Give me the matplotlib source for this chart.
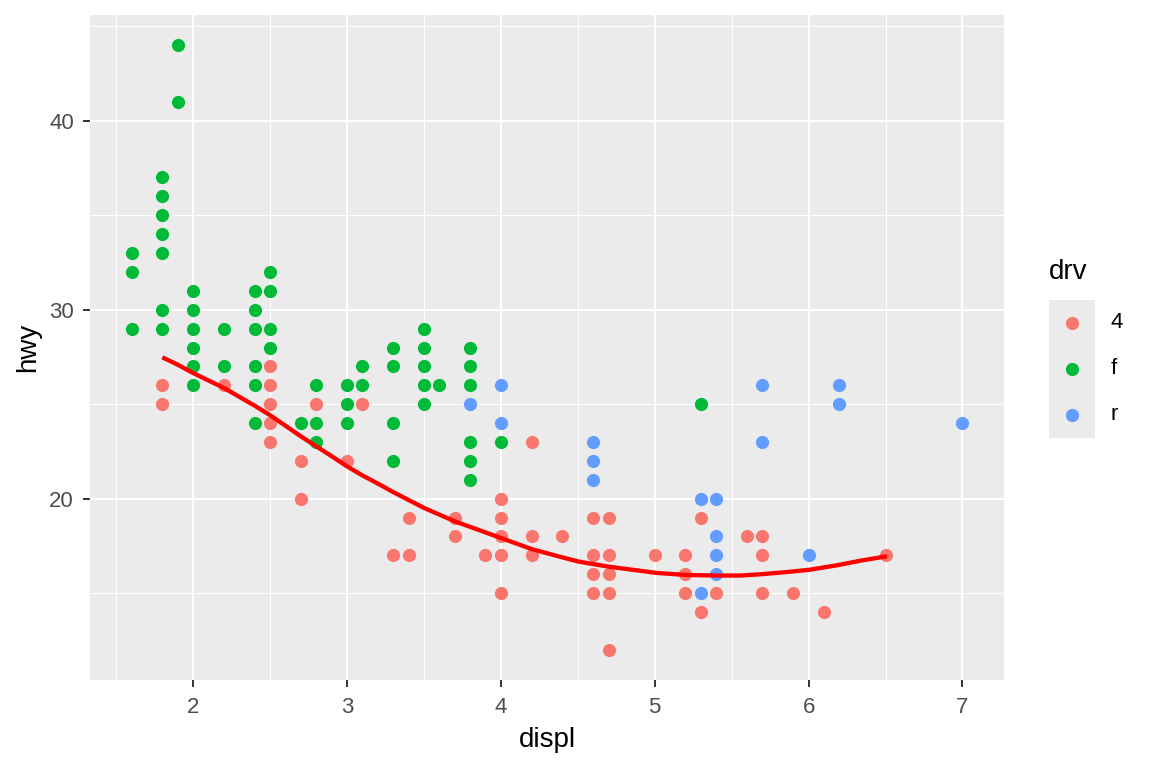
import matplotlib
matplotlib.use("Agg")
import matplotlib.pyplot as plt
import numpy as np

# points (unique displ / hwy pairs per drive type)
displ_4 = [1.8, 1.8, 2.2, 2.5, 2.5, 2.5, 2.5, 2.5, 2.7, 2.7, 2.8, 3.0, 3.1, 3.3, 3.4, 3.4,
           3.7, 3.7, 3.9, 4.0, 4.0, 4.0, 4.0, 4.0, 4.2, 4.2, 4.2, 4.4, 4.6, 4.6, 4.6, 4.6,
           4.7, 4.7, 4.7, 4.7, 4.7, 5.0, 5.2, 5.2, 5.2, 5.3, 5.3, 5.4, 5.6, 5.7, 5.7, 5.7,
           5.9, 6.1, 6.5]
hwy_4 = [26, 25, 26, 27, 26, 25, 24, 23, 22, 20, 25, 22, 25, 17, 19, 17,
         19, 18, 17, 20, 19, 18, 17, 15, 23, 18, 17, 18, 19, 17, 16, 15,
         19, 17, 16, 15, 12, 17, 17, 16, 15, 19, 14, 15, 18, 18, 17, 15,
         15, 14, 17]

displ_f = [1.6, 1.6, 1.6, 1.8, 1.8, 1.8, 1.8, 1.8, 1.8, 1.8, 1.9, 1.9,
           2.0, 2.0, 2.0, 2.0, 2.0, 2.0, 2.2, 2.2, 2.4, 2.4, 2.4, 2.4, 2.4, 2.4,
           2.5, 2.5, 2.5, 2.5, 2.7, 2.8, 2.8, 2.8, 3.0, 3.0, 3.0, 3.1, 3.1,
           3.3, 3.3, 3.3, 3.3, 3.5, 3.5, 3.5, 3.5, 3.5, 3.6,
           3.8, 3.8, 3.8, 3.8, 3.8, 3.8, 4.0, 5.3]
hwy_f = [33, 32, 29, 37, 36, 35, 34, 33, 30, 29, 44, 41,
         31, 30, 29, 28, 27, 26, 29, 27, 31, 30, 29, 27, 26, 24,
         32, 31, 29, 28, 24, 26, 24, 23, 26, 25, 24, 27, 26,
         28, 27, 24, 22, 29, 28, 27, 26, 25, 26,
         28, 27, 26, 23, 22, 21, 23, 25]

displ_r = [3.8, 4.0, 4.0, 4.6, 4.6, 4.6, 5.3, 5.3, 5.4, 5.4, 5.4, 5.4,
           5.7, 5.7, 6.0, 6.2, 6.2, 7.0]
hwy_r = [25, 26, 24, 23, 22, 21, 20, 15, 20, 18, 17, 16,
         26, 23, 17, 26, 25, 24]

# smooth curve (4wd only)
smooth_x = [1.80, 1.90, 2.00, 2.20, 2.40, 2.50, 2.70, 2.80,
            2.90, 3.00, 3.10, 3.20, 3.30, 3.40, 3.50, 3.70, 4.00, 4.20, 4.40,
            4.51, 4.70, 5.01, 5.20, 5.40, 5.56, 5.71, 5.88, 6.01, 6.19, 6.34, 6.51]
smooth_y = [27.48, 27.09, 26.65, 25.86, 24.92, 24.42, 23.30, 22.77,
            22.25, 21.71, 21.23, 20.80, 20.35, 19.93, 19.51, 18.80, 17.92, 17.33, 16.89,
            16.66, 16.40, 16.07, 15.96, 15.93, 15.93, 16.01, 16.13, 16.24, 16.48, 16.72, 16.95]

groups = ["4", "f", "r"]
colors = {"4": "#F8766D", "f": "#00BA38", "r": "#619CFF"}
data = {"4": (displ_4, hwy_4), "f": (displ_f, hwy_f), "r": (displ_r, hwy_r)}

plt.rcParams['font.family'] = ['Liberation Sans', 'DejaVu Sans']

fig = plt.figure(figsize=(11.52, 7.68), dpi=100)
ax = fig.add_axes([90 / 1152, 88 / 768, 914 / 1152, 665 / 768])
ax.set_facecolor("#EBEBEB")

for g in groups:
    x, y = data[g]
    ax.scatter(x, y, s=90, color=colors[g], linewidths=0, zorder=3)

ax.plot(smooth_x, smooth_y, color="#FF0000", lw=3.1, zorder=4,
        solid_capstyle="butt", solid_joinstyle="round")

ax.set_xlim(1.33, 7.27)
ax.set_ylim(10.4, 45.6)
ax.set_xticks([2, 3, 4, 5, 6, 7])
ax.set_yticks([20, 30, 40])
ax.set_xticks(np.arange(1.5, 7.5, 1.0), minor=True)
ax.set_yticks([15, 25, 35, 45], minor=True)
ax.grid(which="major", color="white", lw=1.5)
ax.grid(which="minor", color="white", lw=0.75)
ax.set_axisbelow(True)
for s in ax.spines.values():
    s.set_visible(False)
ax.tick_params(which="major", length=5, width=1.4, color="#333333",
               labelcolor="#4D4D4D", labelsize=16)
ax.tick_params(axis="x", which="major", pad=7)
ax.tick_params(axis="y", which="major", pad=6.5)
ax.tick_params(which="minor", length=0)
ax.set_xlabel("displ", fontsize=20, labelpad=7)
ax.set_ylabel("hwy", fontsize=20, labelpad=6)

# legend
fig.text(1049 / 1152, 1 - 272 / 768, "drv", fontsize=20, va="center", ha="left")
lax = fig.add_axes([1049 / 1152, 1 - 438 / 768, 46 / 1152, 138 / 768])
lax.set_facecolor("#EBEBEB")
lax.set_xlim(0, 1)
lax.set_ylim(0, 3)
for i, g in enumerate(groups):
    yy = 2.5 - i
    lax.scatter([0.5], [yy], s=90, color=colors[g], linewidths=0)
    lax.text(1.33, yy, g, fontsize=16, va="center", ha="left",
             transform=lax.transData, clip_on=False)
lax.set_xticks([])
lax.set_yticks([])
for s in lax.spines.values():
    s.set_visible(False)

fig.savefig("out.png", dpi=100)
